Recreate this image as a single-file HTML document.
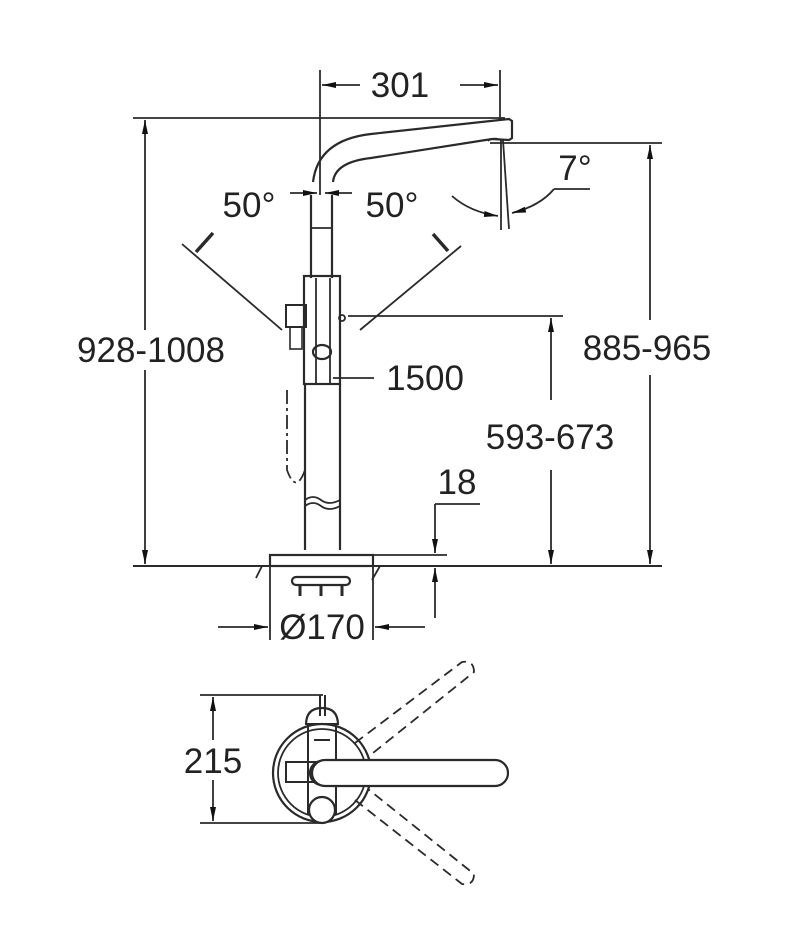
<!DOCTYPE html>
<html><head><style>
html,body{margin:0;padding:0;background:#fff}
svg{display:block}
text{font-family:"Liberation Sans",sans-serif;font-size:35px;fill:#222}
</style></head><body>
<svg width="790" height="950" viewBox="0 0 790 950" xmlns="http://www.w3.org/2000/svg">
<defs>
<marker id="a" viewBox="0 0 14 7" refX="14" refY="3.5" markerWidth="14" markerHeight="7" markerUnits="userSpaceOnUse" orient="auto"><path d="M0,0.5 L14,3.5 L0,6.5z" fill="#111"/></marker>
</defs>
<g stroke="#2a2a2a" stroke-width="1.8" fill="none">
<line x1="320" y1="70" x2="320" y2="195"/>
<line x1="500" y1="70" x2="500" y2="120"/>
<line x1="360" y1="85" x2="322" y2="85" marker-end="url(#a)"/>
<line x1="460" y1="85" x2="498" y2="85" marker-end="url(#a)"/>
<line x1="133" y1="118" x2="505" y2="118"/>
<line x1="145" y1="340" x2="145" y2="120" marker-end="url(#a)"/>
<line x1="145" y1="370" x2="145" y2="564" marker-end="url(#a)"/>
<path d="M313,182 Q318,140 371,134 L509,119 L512,121 L512,138 L509,140 L492,139 L371,158 Q335,162 333,182" stroke-width="2.2"/>
<path d="M488,141 Q495,136 502,141" stroke-width="1.5"/>
<line x1="490" y1="143" x2="662" y2="143"/>
<line x1="650" y1="320" x2="650" y2="145" marker-end="url(#a)"/>
<line x1="650" y1="375" x2="650" y2="564" marker-end="url(#a)"/>
<line x1="501" y1="140" x2="501" y2="230"/>
<line x1="503" y1="140" x2="509" y2="229"/>
<path d="M452,196 Q470,212 498,216" marker-end="url(#a)"/>
<path d="M554,189 Q540,206 512,213" marker-end="url(#a)"/>
<line x1="554" y1="189" x2="590" y2="189"/>
<line x1="290" y1="193" x2="317" y2="193" marker-end="url(#a)"/>
<line x1="352" y1="193" x2="325" y2="193" marker-end="url(#a)"/>
<line x1="182" y1="244" x2="282" y2="330"/>
<line x1="461" y1="246" x2="360" y2="330"/>
<line x1="213" y1="233" x2="196" y2="252" stroke-width="3.5"/>
<line x1="433" y1="234" x2="448" y2="251" stroke-width="3.5"/>
<line x1="311" y1="195" x2="311" y2="278" stroke-width="2.2"/>
<line x1="332" y1="195" x2="332" y2="278" stroke-width="2.2"/>
<line x1="311" y1="228" x2="332" y2="228"/>
<rect x="304" y="276" width="36" height="108" stroke-width="2.2"/>
<line x1="316" y1="278" x2="316" y2="384"/>
<line x1="330" y1="278" x2="330" y2="384"/>
<rect x="286" y="305" width="20" height="22" stroke-width="2"/>
<rect x="290" y="327" width="12" height="22" stroke-width="1.6"/>
<ellipse cx="322" cy="352" rx="9" ry="7" stroke-width="2.2"/>
<circle cx="342" cy="318" r="3"/>
<line x1="305" y1="384" x2="305" y2="550" stroke-width="2.2"/>
<line x1="340" y1="384" x2="340" y2="550" stroke-width="2.2"/>
<path d="M305,500 q8,-6 16,0 t19,0" />
<path d="M305,506 q8,-6 16,0 t19,0" />
<path d="M287,390 L287,470 Q296,495 305,470" stroke-dasharray="14,4,3,4"/>
<line x1="348" y1="316" x2="563" y2="316"/>
<line x1="551" y1="400" x2="551" y2="318" marker-end="url(#a)"/>
<line x1="551" y1="470" x2="551" y2="564" marker-end="url(#a)"/>
<line x1="333" y1="378" x2="374" y2="378"/>
<line x1="133" y1="566" x2="662" y2="566" stroke-width="2"/>
<rect x="270" y="555" width="103" height="11" stroke-width="2.2"/>
<line x1="373" y1="555" x2="447" y2="555"/>
<line x1="270" y1="566" x2="270" y2="640"/>
<line x1="373" y1="566" x2="373" y2="640"/>
<line x1="262" y1="566" x2="256" y2="578"/>
<line x1="380" y1="566" x2="372" y2="580"/>
<rect x="292" y="577" width="58" height="8" rx="4" stroke-width="2.2"/>
<line x1="300" y1="585" x2="300" y2="596" stroke-width="3"/>
<line x1="321" y1="585" x2="321" y2="596" stroke-width="3"/>
<line x1="342" y1="585" x2="342" y2="596" stroke-width="3"/>
<line x1="435" y1="504" x2="480" y2="504"/>
<line x1="435" y1="504" x2="435" y2="553" marker-end="url(#a)"/>
<line x1="435" y1="618" x2="435" y2="568" marker-end="url(#a)"/>
<line x1="218" y1="627" x2="268" y2="627" marker-end="url(#a)"/>
<line x1="425" y1="627" x2="375" y2="627" marker-end="url(#a)"/>
<line x1="200" y1="695" x2="323" y2="695"/>
<line x1="200" y1="823" x2="320" y2="823"/>
<line x1="213" y1="740" x2="213" y2="697" marker-end="url(#a)"/>
<line x1="213" y1="780" x2="213" y2="821" marker-end="url(#a)"/>
<circle cx="322" cy="773" r="49" stroke-width="2.2"/>
<circle cx="322" cy="773" r="44" stroke-width="1.8"/>
<path d="M306,725 Q306,708 322,708 Q338,708 338,725" stroke-width="2.2"/>
<line x1="320" y1="695" x2="320" y2="716" stroke-width="2"/>
<line x1="325" y1="695" x2="325" y2="716" stroke-width="2"/>
<rect x="308" y="724" width="28" height="90" stroke-width="2"/>
<line x1="314" y1="740" x2="330" y2="740" stroke-width="2"/>
<rect x="286" y="762" width="36" height="20" stroke-width="2"/>
<circle cx="322" cy="773" r="12" stroke-width="2.2"/>
<circle cx="322" cy="810" r="13" stroke-width="2.2" fill="#fff"/>
<rect x="312" y="760" width="196" height="26" rx="13" stroke-width="2.2" fill="#fff"/>
<g stroke-dasharray="10,6">
<path d="M355,743 L462,662 Q474,660 474,672 L368,757"/>
<path d="M355,800 L462,884 Q474,886 474,874 L368,789"/>
</g>
</g>
<g>
<text x="400" y="97" text-anchor="middle">301</text>
<text x="249" y="217" text-anchor="middle">50°</text>
<text x="392" y="217" text-anchor="middle">50°</text>
<text x="575" y="180" text-anchor="middle">7°</text>
<rect x="72" y="330" width="160" height="40" fill="#fff"/>
<text x="151" y="362" text-anchor="middle">928-1008</text>
<rect x="574" y="328" width="150" height="40" fill="#fff"/>
<text x="647" y="360" text-anchor="middle">885-965</text>
<text x="425" y="390" text-anchor="middle">1500</text>
<rect x="478" y="415" width="146" height="42" fill="#fff"/>
<text x="550" y="449" text-anchor="middle">593-673</text>
<text x="457" y="494" text-anchor="middle">18</text>
<text x="322" y="639" text-anchor="middle">Ø170</text>
<rect x="180" y="742" width="66" height="38" fill="#fff"/>
<text x="213" y="773" text-anchor="middle">215</text>
</g>
</svg>
</body></html>
